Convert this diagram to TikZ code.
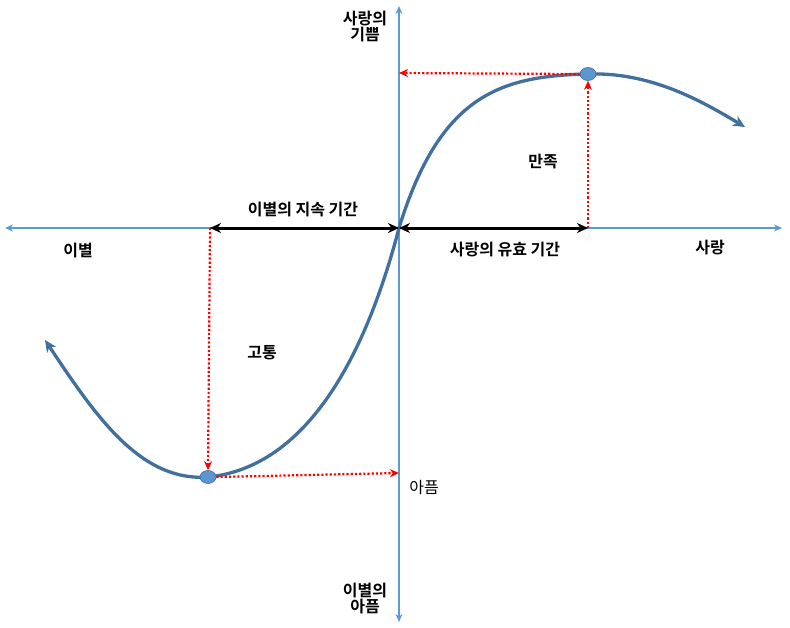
\documentclass[tikz,border=0pt]{standalone}
\usepackage{fontspec}
\usepackage{xcolor}
\usetikzlibrary{arrows.meta,positioning,calc,shapes.geometric}
\newfontfamily\kr{Noto Sans CJK KR}
\newfontfamily\krb{Noto Sans CJK KR Bold}
\definecolor{AxisBlue}{RGB}{91,155,213}
\definecolor{CurveBlue}{RGB}{65,112,158}
\definecolor{DotBlue}{RGB}{91,150,210}
\tikzset{
  axis/.style={AxisBlue,line width=2pt,{Stealth[length=8pt,width=7pt]}-{Stealth[length=8pt,width=7pt]}},
  curve/.style={CurveBlue,line width=3.3pt,{Stealth[length=12pt,width=11pt]}-{Stealth[length=12pt,width=11pt]}},
  guide/.style={red,line width=2.2pt,dotted,-{Stealth[length=9pt,width=8pt]}},
  span/.style={black,line width=3pt,{Stealth[length=11pt,width=10pt]}-{Stealth[length=11pt,width=10pt]}},
  dot/.style={ellipse,fill=DotBlue,draw=CurveBlue,line width=0.6pt,minimum width=16pt,minimum height=13pt,inner sep=0pt},
  lbl/.style={font=\fontsize{16}{19}\selectfont\krb,align=center,inner sep=1pt},
  lblr/.style={font=\fontsize{16}{19}\selectfont\kr,inner sep=1pt},
}
\begin{document}
\begin{tikzpicture}[x=1pt,y=-1pt]
  \useasboundingbox (0,0) rectangle (790,627);
  % axes
  \coordinate (O) at (399,228);
  \coordinate (xl) at (5,228);
  \coordinate (xr) at (782,228);
  \coordinate (yt) at (399,6);
  \coordinate (yb) at (399,622);
  \draw[axis] (xl) -- (xr);
  \draw[axis] (yb) -- (yt);
  % curve
  \coordinate (cs) at (45,340);
  \coordinate (ce) at (745,127);
  \draw[curve] (cs) .. controls (95,415) and (140,482) .. (208,477)
    .. controls (300,468) and (362,370) .. (O)
    .. controls (440,95) and (500,76) .. (588,74)
    .. controls (650,72) and (700,100) .. (ce);
  % points
  \node[dot] (joy) at (588,74) {};
  \node[dot] (pain) at (208,477) {};
  \coordinate (joyy) at (399,73);
  \coordinate (joyx) at (588,228);
  \coordinate (painx) at (210,228);
  \coordinate (painy) at (399,473);
  \draw[guide] (joy.west) -- (joyy);
  \draw[guide] (joyx) -- (joy.south);
  \draw[guide] (painx) -- (pain.north);
  \draw[guide] (pain.east) -- (painy);
  % spans
  \draw[span] (painx) -- (O);
  \draw[span] (O) -- (joyx);
  % labels
  \node[lbl] (ytop) at (365,26) {사랑의\\[-3pt]기쁨};
  \node[lbl] (ybot) at (365,598) {이별의\\[-3pt]아픔};
  \node[lbl] (sep) at (78,251) {이별};
  \node[lbl] (love) at (710,248) {사랑};
  \node[lbl] (satis) at (543,162) {만족};
  \node[lbl] (agony) at (262,353) {고통};
  \node[lblr] (ache) at (424,488) {아픔};
  \node[lbl] (sepspan) at (303,210) {이별의 지속 기간};
  \node[lbl] (lovespan) at (505,250) {사랑의 유효 기간};
\end{tikzpicture}
\end{document}
